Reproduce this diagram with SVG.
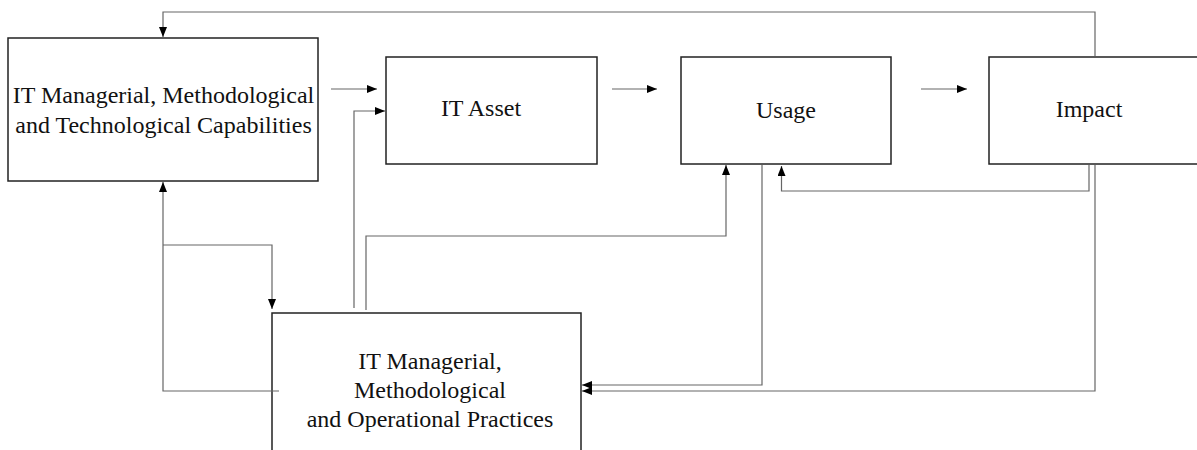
<svg xmlns="http://www.w3.org/2000/svg" width="1197" height="450" viewBox="0 0 1197 450">
<style>
.box{fill:#fff;stroke:#222;stroke-width:1.5}
.lbl{font-family:"Liberation Serif","Times New Roman",serif;font-size:24px;fill:#111;text-anchor:middle}
.c{fill:none;stroke:#666;stroke-width:1.2}
</style>
<defs>
<marker id="ah" markerUnits="userSpaceOnUse" markerWidth="10" markerHeight="8" refX="10" refY="4" orient="auto">
<path d="M0,0 L10,4 L0,8 z" fill="#000"/>
</marker>
</defs>
<rect width="1197" height="450" fill="#fff"/>
<g id="capabilities">
<rect class="box" x="8" y="38" width="310" height="143"/>
<text class="lbl" x="163.5" y="103">IT Managerial, Methodological</text>
<text class="lbl" x="163.5" y="133">and Technological Capabilities</text>
</g>
<g id="asset">
<rect class="box" x="386" y="57" width="211" height="107"/>
<text class="lbl" x="481" y="116">IT Asset</text>
</g>
<g id="usage">
<rect class="box" x="681" y="57" width="210" height="107"/>
<text class="lbl" x="786" y="118">Usage</text>
</g>
<g id="impact">
<rect class="box" x="989" y="57" width="220" height="107"/>
<text class="lbl" x="1089" y="117">Impact</text>
</g>
<g id="practices">
<rect class="box" x="272" y="313" width="309" height="150"/>
<text class="lbl" x="430" y="369">IT Managerial,</text>
<text class="lbl" x="430" y="398">Methodological</text>
<text class="lbl" x="430" y="427">and Operational Practices</text>
</g>
<g id="connectors">
<path class="c" d="M1095,56 V12 H163 V37" marker-end="url(#ah)"/>
<path class="c" d="M331,89 H377" marker-end="url(#ah)"/>
<path class="c" d="M612,89 H657" marker-end="url(#ah)"/>
<path class="c" d="M921,89 H967" marker-end="url(#ah)"/>
<path class="c" d="M354,308 V111 H385" marker-end="url(#ah)"/>
<path class="c" d="M366,310 V236 H726 V165" marker-end="url(#ah)"/>
<path class="c" d="M1089,165 V191 H781.5 V166" marker-end="url(#ah)"/>
<path class="c" d="M762,165 V385 H582" marker-end="url(#ah)"/>
<path class="c" d="M1095,165 V391 H582" marker-end="url(#ah)"/>
<path class="c" d="M279,391 H163 V182" marker-end="url(#ah)"/>
<path class="c" d="M163,245 H272 V309" marker-end="url(#ah)"/>
</g>
</svg>
